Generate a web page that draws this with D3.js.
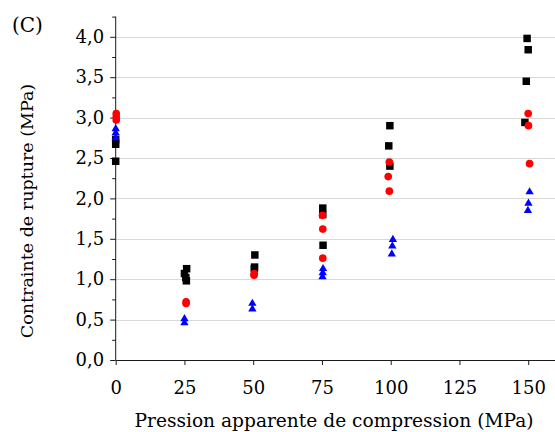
<!DOCTYPE html>
<html>
<head>
<meta charset="utf-8">
<script src="https://cdn.jsdelivr.net/npm/d3@7"></script>
<style>
  html, body { margin: 0; padding: 0; background: #fff; }
  svg { display: block; }
  text { font-family: "DejaVu Serif", serif; fill: #000; }
</style>
</head>
<body>
<script>
/*
 * Scatter plot: breaking stress vs. apparent compression pressure,
 * three series (black squares, red circles, blue triangles).
 */

// data (MPa)
const BLACK_X = [0, 0, 0, 25.8, 25.0, 25.5, 25.7, 50.6, 50.5, 50.4, 75.3, 75.3, 75.4, 99.7, 99.3, 99.7, 149.6, 150.0, 149.3, 148.8];
const BLACK_Y = [2.73, 2.67, 2.46, 1.13, 1.07, 1.02, 0.98, 1.30, 1.15, 1.13, 1.88, 1.80, 1.42, 2.90, 2.65, 2.40, 3.98, 3.84, 3.45, 2.94];

const RED_X = [0.2, 0.2, 0.2, 25.6, 25.6, 50.4, 50.3, 75.2, 75.3, 75.3, 99.5, 99.1, 99.5, 150.0, 150.1, 150.5];
const RED_Y = [3.05, 3.01, 2.97, 0.72, 0.70, 1.07, 1.05, 1.79, 1.62, 1.26, 2.45, 2.27, 2.09, 3.05, 2.90, 2.43];

const BLUE_X = [0, 0, 0, 25.0, 25.0, 49.7, 49.7, 75.4, 75.3, 75.2, 100.8, 100.6, 100.4, 150.5, 150.1, 149.9];
const BLUE_Y = [2.86, 2.81, 2.75, 0.51, 0.46, 0.70, 0.63, 1.13, 1.08, 1.03, 1.49, 1.41, 1.31, 2.08, 1.94, 1.85];

const X_TICKS = [0, 25, 50, 75, 100, 125, 150];
const Y_TICKS = [0, 0.5, 1, 1.5, 2, 2.5, 3, 3.5, 4];
const Y_MINOR = [0.25, 0.75, 1.25, 1.75, 2.25, 2.75, 3.25, 3.75, 4.25];

const PANEL_LABEL = '(C)';
const X_TITLE = 'Pression apparente de compression (MPa)';
const Y_TITLE = 'Contrainte de rupture (MPa)';

/*
 * Canvas parameters.
 */

const WIDTH = 555;
const HEIGHT = 432;
const LEFT = 115.7;
const BOTTOM = 360;
const TICK_FONT = 18;
const TITLE_FONT = 18.6;

const xScale = d3.scaleLinear().domain([0, 160]).range([LEFT, LEFT + 440]);
const yScale = d3.scaleLinear().domain([0, 4.25]).range([BOTTOM, BOTTOM - 4.25 * 80.8]);

const fmt = v => d3.format('.1f')(v).replace('.', ',');

const svg = d3.select('body')
  .append('svg')
    .attr('width', WIDTH)
    .attr('height', HEIGHT);

// gridlines
svg.append('g')
  .selectAll('line')
  .data(Y_TICKS.slice(1))
  .enter()
  .append('line')
    .attr('x1', LEFT)
    .attr('x2', WIDTH)
    .attr('y1', d => Math.round(yScale(d)) + 0.5)
    .attr('y2', d => Math.round(yScale(d)) + 0.5)
    .attr('stroke', '#d9d9d9')
    .attr('stroke-width', 1);

// y axis (major + minor ticks)
const yAxis = d3.axisLeft(yScale)
    .tickValues(Y_TICKS)
    .tickSize(5.5)
    .tickSizeOuter(0)
    .tickPadding(6)
    .tickFormat(fmt);

const yg = svg.append('g')
    .attr('transform', `translate(${LEFT}, 0)`)
    .call(yAxis);

yg.select('.domain').attr('d', `M0,${yScale(0)}V${yScale(4.25)}`);

svg.append('g')
    .attr('transform', `translate(${LEFT}, 0)`)
    .call(d3.axisLeft(yScale).tickValues(Y_MINOR).tickSize(3.5).tickFormat(''))
    .select('.domain').remove();

// x axis
svg.append('g')
    .attr('transform', `translate(0, ${BOTTOM})`)
    .call(d3.axisBottom(xScale)
      .tickValues(X_TICKS)
      .tickSize(5)
      .tickSizeOuter(0)
      .tickPadding(16));

svg.selectAll('.tick text')
    .style('font-family', '"DejaVu Serif", serif')
    .style('font-size', `${TICK_FONT}px`)
    .attr('fill', '#000');
svg.selectAll('.domain, .tick line').attr('stroke', '#1a1a1a');

// markers
const addSeries = (xs, ys, type, size, color) => {
  svg.append('g')
    .selectAll('path')
    .data(xs.map((x, i) => [x, ys[i]]))
    .enter()
    .append('path')
      .attr('transform', d => `translate(${xScale(d[0])}, ${yScale(d[1])})`)
      .attr('d', d3.symbol().type(type).size(size))
      .attr('fill', color);
};

addSeries(BLACK_X, BLACK_Y, d3.symbolSquare, 56, '#000000');
addSeries(RED_X, RED_Y, d3.symbolCircle, 46, '#ff0000');
addSeries(BLUE_X, BLUE_Y, d3.symbolTriangle, 30, '#0000ff');

// titles
svg.append('text')
    .attr('x', 12)
    .attr('y', 32)
    .style('font-size', '20px')
    .text(PANEL_LABEL);

svg.append('text')
    .attr('x', 334)
    .attr('y', 427)
    .attr('text-anchor', 'middle')
    .style('font-size', `${TITLE_FONT}px`)
    .text(X_TITLE);

svg.append('text')
    .attr('transform', 'translate(33, 211) rotate(-90)')
    .attr('text-anchor', 'middle')
    .style('font-size', '17.5px')
    .text(Y_TITLE);
</script>
</body>
</html>
